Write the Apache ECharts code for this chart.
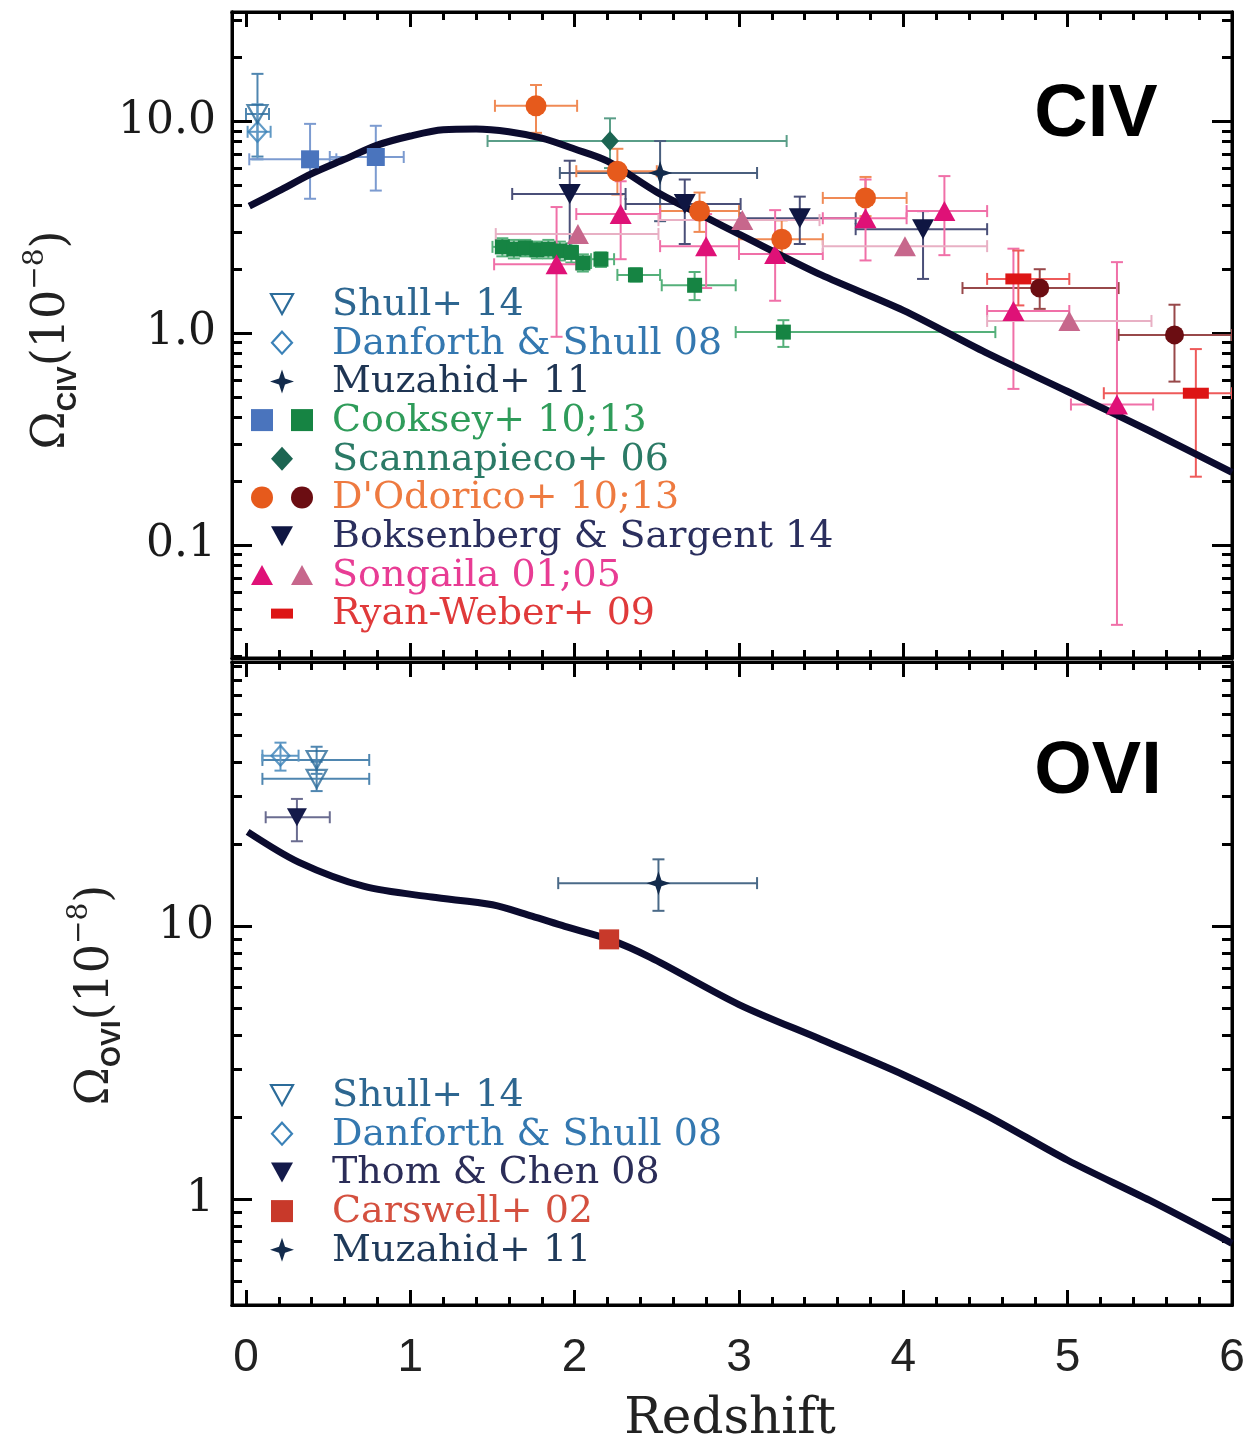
<!DOCTYPE html>
<html><head><meta charset="utf-8">
<script src="https://cdn.jsdelivr.net/npm/echarts@6/dist/echarts.min.js"></script>
<style>html,body{margin:0;padding:0;background:#fff}#c{width:1249px;height:1443px}</style>
</head><body><div id="c"></div><script>
// ---------------- DATA ----------------
// rows: [redshift, Omega(1e-8), zLow, zHigh, OmegaLow, OmegaHigh]
const shullCIV     = [[0.07, 10.8, 0.00, 0.14, 6.8, 16.7]];
const danforthCIV  = [[0.07, 8.9, 0.01, 0.15, 6.6, 12.0]];
const muzahidCIV   = [[2.52, 5.69, 1.91, 3.11, 3.37, 8.05]];
const cookseyBlue  = [[0.39, 6.6, 0.02, 0.55, 4.3, 9.7], [0.79, 6.77, 0.51, 0.96, 4.7, 9.5]];
const cookseyGreen = [
  [1.56, 2.55, 1.50, 1.60, 2.30, 2.80], [1.63, 2.49, 1.60, 1.66, 2.25, 2.75],
  [1.70, 2.52, 1.66, 1.73, 2.30, 2.75], [1.77, 2.47, 1.73, 1.80, 2.25, 2.70],
  [1.84, 2.49, 1.80, 1.87, 2.25, 2.75], [1.91, 2.44, 1.87, 1.95, 2.20, 2.70],
  [1.98, 2.40, 1.95, 2.02, 2.15, 2.65], [2.05, 2.14, 2.02, 2.10, 1.95, 2.35],
  [2.16, 2.23, 2.10, 2.24, 2.05, 2.40], [2.37, 1.88, 2.26, 2.52, 1.75, 2.02],
  [2.73, 1.68, 2.53, 2.98, 1.43, 1.94], [3.27, 1.01, 2.98, 4.56, 0.86, 1.15]];
const scannapieco  = [[2.215, 8.05, 1.47, 3.29, 6.0, 10.3]];
const dodorico10   = [[1.765, 11.8, 1.515, 2.015, 8.8, 14.8], [2.26, 5.8, 2.01, 2.50, 4.5, 7.4],
  [2.76, 3.76, 2.52, 3.00, 3.0, 4.6], [3.26, 2.77, 3.00, 3.51, 2.26, 3.4], [3.77, 4.34, 3.51, 4.02, 3.56, 5.45]];
const dodorico13   = [[4.83, 1.63, 4.36, 5.31, 1.30, 2.0], [5.65, 0.98, 5.31, 6.0, 0.59, 1.36]];
const boksenberg   = [[1.97, 4.53, 1.62, 2.31, 2.44, 6.5], [2.67, 4.06, 2.31, 3.01, 2.63, 5.3],
  [3.37, 3.48, 3.01, 3.71, 2.63, 4.4], [4.12, 3.09, 3.71, 4.51, 1.8, 3.76]];
const songaila01   = [[1.89, 2.11, 1.51, 2.01, 0.96, 3.93], [2.28, 3.64, 2.01, 2.52, 2.23, 5.2],
  [2.80, 2.57, 2.52, 3.00, 1.63, 3.64], [3.22, 2.36, 3.00, 3.51, 1.42, 3.8],
  [3.77, 3.48, 3.51, 4.02, 2.2, 5.3], [4.25, 3.76, 4.02, 4.51, 2.33, 5.5],
  [4.67, 1.27, 4.51, 5.01, 0.545, 2.5], [5.30, 0.46, 5.02, 5.52, 0.042, 2.16]];
const songaila05   = [[2.02, 2.93, 1.52, 2.51, 2.93, 2.93], [3.02, 3.41, 2.51, 3.49, 3.41, 3.41],
  [4.01, 2.57, 3.51, 4.51, 2.57, 2.57], [5.01, 1.14, 4.51, 5.51, 1.14, 1.14]];
const ryanWeber    = [[4.70, 1.80, 4.51, 5.01, 1.35, 2.45], [5.78, 0.52, 5.22, 6.0, 0.21, 0.84]];

const shullOVI     = [[0.43, 40.7, 0.10, 0.75, 36.2, 45.5], [0.43, 34.7, 0.10, 0.75, 31.3, 40.1]];
const danforthOVI  = [[0.21, 42.2, 0.10, 0.32, 37.2, 47.1]];
const thomChen     = [[0.31, 25.1, 0.12, 0.51, 20.5, 29.3]];
const carswell     = [[2.21, 8.96, 2.21, 2.21, 8.96, 8.96]];
const muzahidOVI   = [[2.51, 14.4, 1.90, 3.11, 11.4, 17.6]];

const civModelZ     = [0.02,0.2,0.4,0.6,0.8,1.0,1.2,1.4,1.6,1.8,2.0,2.2,2.5,2.8,3.0,3.5,4.0,4.5,5.0,5.5,6.0];
const civModelOmega = [3.97,4.68,5.65,6.6,7.7,8.5,9.1,9.17,8.9,8.3,7.38,6.47,4.62,3.51,2.93,1.88,1.28,0.81,0.53,0.345,0.22];
const oviModelZ     = [0.01,0.32,0.72,1.13,1.5,1.74,1.94,2.21,2.46,3.0,3.5,4.0,4.5,5.0,5.5,6.0];
const oviModelOmega = [22.2,17.2,14.0,12.8,12.0,10.9,10.0,8.96,7.7,5.17,3.85,2.86,2.04,1.39,0.99,0.69];

const xMajor = [0,1,2,3,4,5,6];
const xLabels = ['0','1','2','3','4','5','6'];
const xMinor = [0.2,0.4,0.6,0.8,1.2,1.4,1.6,1.8,2.2,2.4,2.6,2.8,3.2,3.4,3.6,3.8,4.2,4.4,4.6,4.8,5.2,5.4,5.6,5.8];
const civMajor = [0.1, 1, 10];
const civLabels = ['0.1', '1.0', '10.0'];
const civMinor = [0.03,0.04,0.05,0.06,0.07,0.08,0.09,0.2,0.3,0.4,0.5,0.6,0.7,0.8,0.9,2,3,4,5,6,7,8,9,20,30];
const oviMajor = [1, 10];
const oviLabels = ['1', '10'];
const oviMinor = [0.5,0.6,0.7,0.8,0.9,2,3,4,5,6,7,8,9,20,30,40,50,60,70,80,90];

// ---------------- CONFIG ----------------
const Z_MIN = -0.085, Z_MAX = 6.0;
const CIV_MIN = 0.0293, CIV_MAX = 32.7;
const OVI_MIN = 0.41, OVI_MAX = 93;
const SERIF = 'DejaVu Serif';
const TICK = {color: '#000', width: 3};
const AXLINE = {show: true, onZero: false, lineStyle: {color: '#000', width: 3}};

function xAxesFor(g, showLabels) {
  const base = {type: 'value', gridIndex: g, min: Z_MIN, max: Z_MAX,
    axisLine: AXLINE, splitLine: {show: false}, axisLabel: {show: false}};
  const major = {show: true, inside: true, length: 15, lineStyle: TICK, customValues: xMajor};
  const minor = {show: true, inside: true, length: 8, lineStyle: TICK, customValues: xMinor};
  const lab = showLabels ? {show: true, customValues: xMajor, margin: 30,
    fontFamily: 'Liberation Sans', fontSize: 46, color: '#222',
    formatter: v => xLabels[xMajor.indexOf(Math.round(v))]} : {show: false};
  return [
    {...base, position: 'bottom', axisTick: major, axisLabel: lab},
    {...base, position: 'bottom', axisTick: minor},
    {...base, position: 'top', axisTick: major},
    {...base, position: 'top', axisTick: minor}
  ];
}
function yAxesFor(g, min, max, majors, minors, labels, margin) {
  const base = {type: 'log', logBase: 10, gridIndex: g, min, max,
    axisLine: AXLINE, splitLine: {show: false}, axisLabel: {show: false}};
  const major = {show: true, inside: true, length: 20, lineStyle: TICK, customValues: majors};
  const minor = {show: true, inside: true, length: 10, lineStyle: TICK, customValues: minors};
  const fmt = v => {
    const i = majors.findIndex(m => Math.abs(Math.log10(m) - Math.log10(v)) < 1e-6);
    return i >= 0 ? labels[i] : '';
  };
  return [
    {...base, position: 'left', axisTick: major, axisLabel: {show: true, customValues: majors,
      margin, fontFamily: SERIF, fontSize: 44, color: '#1a1a1a', formatter: fmt}},
    {...base, position: 'left', axisTick: minor},
    {...base, position: 'right', axisTick: major},
    {...base, position: 'right', axisTick: minor}
  ];
}

function errSeries(data, color, g) {
  return {type: 'custom', xAxisIndex: 4 * g, yAxisIndex: 4 * g, data, clip: true, z: 2, silent: true,
    encode: {x: 0, y: 1},
    renderItem(params, api) {
      const z = api.value(0), v = api.value(1), zl = api.value(2), zh = api.value(3), vl = api.value(4), vh = api.value(5);
      const c = api.coord([z, v]);
      const st = {stroke: color, lineWidth: 2};
      const cap = 6, kids = [];
      const L = (x1, y1, x2, y2) => ({type: 'line', shape: {x1, y1, x2, y2}, style: st});
      if (zh > zl) {
        const a = api.coord([zl, v])[0], b = api.coord([zh, v])[0];
        kids.push(L(a, c[1], b, c[1]), L(a, c[1] - cap, a, c[1] + cap), L(b, c[1] - cap, b, c[1] + cap));
      }
      if (vh > vl) {
        const a = api.coord([z, vl])[1], b = api.coord([z, vh])[1];
        kids.push(L(c[0], a, c[0], b), L(c[0] - cap, a, c[0] + cap, a), L(c[0] - cap, b, c[0] + cap, b));
      }
      return {type: 'group', children: kids};
    }};
}
const STAR = 'path://M0,-12 L3,-3 L12,0 L3,3 L0,12 L-3,3 L-12,0 L-3,-3 Z';
function markSeries(data, g, symbol, size, color, opt) {
  opt = opt || {};
  return {type: 'scatter', xAxisIndex: 4 * g, yAxisIndex: 4 * g, silent: true, z: 4,
    data: data.map(r => [r[0], r[1]]), symbol, symbolSize: size, symbolRotate: opt.rot || 0,
    itemStyle: opt.hollow ? {color: 'rgba(0,0,0,0)', borderColor: color, borderWidth: 2.2} : {color, opacity: 1}};
}
function lineSeries(zs, vs, g) {
  return {type: 'line', xAxisIndex: 4 * g, yAxisIndex: 4 * g, silent: true, z: 3,
    data: zs.map((z, i) => [z, vs[i]]), showSymbol: false, smooth: 0.3,
    lineStyle: {width: 7, color: '#0b0b2e'}};
}

const C = {
  shull: '#2c6c9a', danforth: '#3b82b8', muzahid: '#132b4c', cBlue: '#4a74bd', cGreen: '#168443',
  scanna: '#1c6552', dod10: '#e65a1c', dod13: '#6b0d12', boks: '#0f1642', song01: '#df1177',
  song05: '#c7678c', ryan: '#dd1515', carswell: '#c8392a', thom: '#141a4a'
};

const series = [
  errSeries(shullCIV, '#4f86b0', 0), errSeries(danforthCIV, '#5f98c4', 0),
  errSeries(cookseyBlue, '#7c9bd0', 0), errSeries(cookseyGreen, '#55b07a', 0),
  errSeries(scannapieco, '#5a9e88', 0), errSeries(muzahidCIV, '#4a5f7e', 0),
  errSeries(dodorico10, '#f08a55', 0), errSeries(dodorico13, '#98484a', 0),
  errSeries(boksenberg, '#4a4f78', 0), errSeries(songaila01, '#f070a8', 0),
  errSeries(songaila05, '#e8b0c4', 0), errSeries(ryanWeber, '#ee5a5a', 0),
  lineSeries(civModelZ, civModelOmega, 0),
  markSeries(cookseyGreen, 0, 'rect', 15, C.cGreen),
  markSeries(cookseyBlue, 0, 'rect', 18, C.cBlue),
  markSeries(scannapieco, 0, 'diamond', [18, 20], C.scanna),
  markSeries(songaila05, 0, 'triangle', [22, 20], C.song05),
  markSeries(songaila01, 0, 'triangle', [22, 20], C.song01),
  markSeries(dodorico10, 0, 'circle', 21, C.dod10),
  markSeries(dodorico13, 0, 'circle', 19, C.dod13),
  markSeries(boksenberg, 0, 'triangle', [22, 20], C.boks, {rot: 180}),
  markSeries(ryanWeber, 0, 'rect', [26, 11], C.ryan),
  markSeries(muzahidCIV, 0, STAR, 24, C.muzahid),
  markSeries(danforthCIV, 0, 'diamond', [18, 20], C.danforth, {hollow: true}),
  markSeries(shullCIV, 0, 'triangle', [20, 18], C.shull, {rot: 180, hollow: true}),

  errSeries(shullOVI, '#4f86b0', 1), errSeries(danforthOVI, '#5f98c4', 1),
  errSeries(thomChen, '#6a6c90', 1), errSeries(muzahidOVI, '#4a6a88', 1),
  lineSeries(oviModelZ, oviModelOmega, 1),
  markSeries(carswell, 1, 'rect', 20, C.carswell),
  markSeries(muzahidOVI, 1, STAR, 24, C.muzahid),
  markSeries(thomChen, 1, 'triangle', [20, 18], C.thom, {rot: 180}),
  markSeries(danforthOVI, 1, 'diamond', [18, 20], C.danforth, {hollow: true}),
  markSeries(shullOVI, 1, 'triangle', [20, 18], C.shull, {rot: 180, hollow: true})
];

// ---------------- LEGEND (graphic) ----------------
function sym(kind, x, y, color, hollow, w, h) {
  const st = hollow ? {fill: 'none', stroke: color, lineWidth: 2.2} : {fill: color};
  if (kind === 'itri') return {type: 'polygon', shape: {points: [[x - w / 2, y - h / 2], [x + w / 2, y - h / 2], [x, y + h / 2]]}, style: st};
  if (kind === 'tri') return {type: 'polygon', shape: {points: [[x - w / 2, y + h / 2], [x + w / 2, y + h / 2], [x, y - h / 2]]}, style: st};
  if (kind === 'dia') return {type: 'polygon', shape: {points: [[x, y - h / 2], [x + w / 2, y], [x, y + h / 2], [x - w / 2, y]]}, style: st};
  if (kind === 'rect') return {type: 'rect', shape: {x: x - w / 2, y: y - h / 2, width: w, height: h}, style: st};
  if (kind === 'circ') return {type: 'circle', shape: {cx: x, cy: y, r: w / 2}, style: st};
  if (kind === 'star') {
    const a = w / 2, b = w / 8;
    return {type: 'polygon', shape: {points: [[x, y - a], [x + b, y - b], [x + a, y], [x + b, y + b], [x, y + a], [x - b, y + b], [x - a, y], [x - b, y - b]]}, style: st};
  }
}
function txt(s, x, y, color) {
  return {type: 'text', x, y, style: {text: s, fill: color, font: '38px "' + SERIF + '"', verticalAlign: 'middle', align: 'left'}};
}
const topLegend = [
  ['Shull+ 14', '#2d6690', [['itri', 282, C.shull, true, 22, 20]]],
  ['Danforth & Shull 08', '#3478b0', [['dia', 282, C.danforth, true, 20, 22]]],
  ['Muzahid+ 11', '#1f3553', [['star', 282, C.muzahid, false, 24]]],
  ['Cooksey+ 10;13', '#2f9c5a', [['rect', 262, C.cBlue, false, 22, 22], ['rect', 302, C.cGreen, false, 22, 22]]],
  ['Scannapieco+ 06', '#2b7a66', [['dia', 282, C.scanna, false, 22, 24]]],
  ["D'Odorico+ 10;13", '#ee7a40', [['circ', 262, C.dod10, false, 22], ['circ', 302, C.dod13, false, 22]]],
  ['Boksenberg & Sargent 14', '#2b2f5e', [['itri', 282, C.boks, false, 22, 20]]],
  ['Songaila 01;05', '#e83c94', [['tri', 262, C.song01, false, 22, 20], ['tri', 302, C.song05, false, 22, 20]]],
  ['Ryan-Weber+ 09', '#e03a3a', [['rect', 282, C.ryan, false, 22, 10]]]
];
const bottomLegend = [
  ['Shull+ 14', '#2d6690', [['itri', 282, C.shull, true, 22, 20]]],
  ['Danforth & Shull 08', '#3478b0', [['dia', 282, C.danforth, true, 20, 22]]],
  ['Thom & Chen 08', '#2b2d58', [['itri', 282, C.thom, false, 22, 20]]],
  ['Carswell+ 02', '#d4503f', [['rect', 282, C.carswell, false, 22, 22]]],
  ['Muzahid+ 11', '#1f3a5a', [['star', 282, C.muzahid, false, 24]]]
];
const graphics = [];
function addLegend(rows, y0, dy) {
  rows.forEach((r, i) => {
    const y = y0 + i * dy;
    r[2].forEach(s => graphics.push(sym(s[0], s[1], y, s[2], s[3], s[4], s[5] || s[4])));
    graphics.push(txt(r[0], 332, y + 1, r[1]));
  });
}
addLegend(topLegend, 304, 38.7);
addLegend(bottomLegend, 1095, 38.7);

graphics.push({type: 'text', x: 1096, y: 116, style: {text: 'CIV', font: 'bold 74px "Liberation Sans"', fill: '#000', align: 'center', verticalAlign: 'middle'}});
graphics.push({type: 'text', x: 1098, y: 773, style: {text: 'OVI', font: 'bold 74px "Liberation Sans"', fill: '#000', align: 'center', verticalAlign: 'middle'}});
graphics.push({type: 'text', x: 730, y: 1420, style: {text: 'Redshift', font: '50px "' + SERIF + '"', fill: '#222', align: 'center', verticalAlign: 'middle'}});
function yTitle(sub, x, y) {
  return {type: 'text', x, y, rotation: Math.PI / 2,
    style: {text: '{o|Ω}{s|' + sub + '}{o|(10}{p|−8}{o|)}', align: 'center', verticalAlign: 'middle', fill: '#222',
      rich: {
        o: {fontFamily: SERIF, fontSize: 46, fill: '#222', lineHeight: 60},
        s: {fontFamily: 'Liberation Sans', fontWeight: 'bold', fontSize: 27, fill: '#222', verticalAlign: 'bottom', lineHeight: 60},
        p: {fontFamily: SERIF, fontSize: 28, fill: '#222', verticalAlign: 'top', lineHeight: 60}
      }}};
}
graphics.push(yTitle('CIV', 52, 340));
graphics.push(yTitle('OVI', 96, 995));

const option = {
  animation: false,
  backgroundColor: '#fff',
  grid: [
    {left: 232, top: 12, width: 1000, height: 646, show: true, borderColor: '#000', borderWidth: 3, backgroundColor: 'transparent'},
    {left: 232, top: 662, width: 1000, height: 643, show: true, borderColor: '#000', borderWidth: 3, backgroundColor: 'transparent'}
  ],
  xAxis: [...xAxesFor(0, false), ...xAxesFor(1, true)],
  yAxis: [...yAxesFor(0, CIV_MIN, CIV_MAX, civMajor, civMinor, civLabels, 16),
          ...yAxesFor(1, OVI_MIN, OVI_MAX, oviMajor, oviMinor, oviLabels, 18)],
  series,
  graphic: graphics
};
const chart = echarts.init(document.getElementById('c'), null, {renderer: 'canvas'});
chart.setOption(option);
</script></body></html>
